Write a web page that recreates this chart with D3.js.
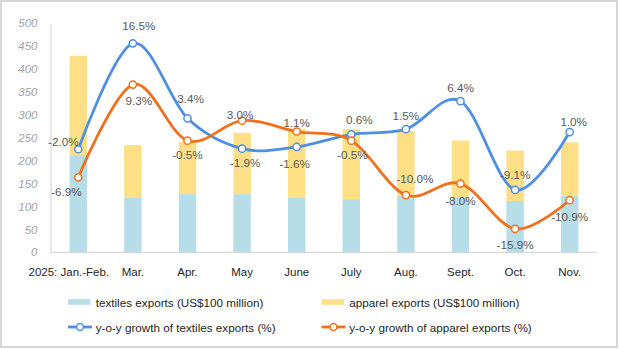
<!DOCTYPE html>
<html>
<head>
<meta charset="utf-8">
<script src="https://cdn.jsdelivr.net/npm/d3@7"></script>
<style>
  html, body { margin: 0; padding: 0; background: #fff; }
  svg { display: block; font-family: "Liberation Sans", Arial, sans-serif; }
</style>
</head>
<body>
<svg id="chart" width="620" height="349"></svg>
<script>
// Monthly textile & apparel exports, 2025 (US$100 million) and y-o-y growth (%)
const categories = ["2025: Jan.-Feb.", "Mar.", "Apr.", "May", "June", "July", "Aug.", "Sept.", "Oct.", "Nov."];
const textilesExports = [212, 120, 127, 127, 120, 116, 124, 121, 112, 124];
const apparelExports  = [217, 114, 114, 134, 150, 153, 141, 123, 110, 116];
const textilesGrowth  = [-2.0, 16.5, 3.4, -1.9, -1.6, 0.6, 1.5, 6.4, -9.1, 1.0];
const apparelGrowth   = [-6.9, 9.3, -0.5, 3.0, 1.1, -0.5, -10.0, -8.0, -15.9, -10.9];
const leftTicks = [0, 50, 100, 150, 200, 250, 300, 350, 400, 450, 500];

// Data-label placement (offset from each marker, px)
const textilesLabelOffset = [[-15, -8], [6, -18], [3, -20], [3, 14], [-2, 17], [8, -15], [0, -14], [0, -14], [0, -15], [4, -11]];
const apparelLabelOffset  = [[-12, 14], [6, 16], [0, 14], [-2, -6], [0, -9], [1, 14], [9, -17], [0, 17], [0, 16], [0, 16]];

const colors = {
  textilesBar: "#b6dde8",
  apparelBar: "#fddf86",
  textilesLine: "#4f8fe2",
  apparelLine: "#f0701f"
};

const svg = d3.select("#chart");

// frame
svg.append("rect")
  .attr("x", 1).attr("y", 1).attr("width", 616).attr("height", 346)
  .attr("fill", "#fff").attr("stroke", "#d6d6d6").attr("stroke-width", 2);

const x = d3.scaleBand().domain(categories).range([51, 597]).paddingInner(0.68).paddingOuter(0.34);
const y = d3.scaleLinear().domain([0, 500]).range([252.3, 23.3]);
const yPct = d3.scaleLinear().domain([-20, 20]).range([252.3, 23.3]);
const cx = c => x(c) + x.bandwidth() / 2;

// left axis
const yAxis = svg.append("g")
  .attr("transform", "translate(50.5,0)")
  .call(d3.axisLeft(y).tickValues(leftTicks).tickSize(0).tickPadding(13));
yAxis.select(".domain").attr("stroke", "#d9d9d9").attr("stroke-width", 1.2);
yAxis.selectAll("text")
  .attr("font-size", 11.5).attr("font-style", "italic").attr("fill", "#a3a3a3")
  .attr("font-family", "Liberation Sans, Arial, sans-serif");

// category axis
const xAxis = svg.append("g")
  .attr("transform", "translate(0,252.3)")
  .call(d3.axisBottom(x).tickSize(0).tickPadding(16));
xAxis.select(".domain").attr("stroke", "#d9d9d9").attr("stroke-width", 1.2)
  .attr("d", "M50,0H597");
xAxis.selectAll("text")
  .attr("font-size", 11.5).attr("fill", "#262626")
  .attr("font-family", "Liberation Sans, Arial, sans-serif")
  .attr("dx", (d, i) => i === 0 ? -9.5 : 0);

// stacked bars
const rows = categories.map((c, i) => ({ cat: c, textiles: textilesExports[i], apparel: apparelExports[i] }));
const stacked = d3.stack().keys(["textiles", "apparel"])(rows);
const barFill = { textiles: colors.textilesBar, apparel: colors.apparelBar };
svg.append("g").selectAll("g").data(stacked).join("g")
  .attr("fill", s => barFill[s.key])
  .selectAll("rect").data(s => s).join("rect")
  .attr("x", d => x(d.data.cat))
  .attr("width", x.bandwidth())
  .attr("y", d => y(d[1]))
  .attr("height", d => y(d[0]) - y(d[1]));

// growth lines
const line = d3.line()
  .x((d, i) => cx(categories[i]))
  .y(d => yPct(d))
  .curve(d3.curveCardinal.tension(0));

function drawSeries(values, color, offsets) {
  const g = svg.append("g");
  g.append("path").datum(values)
    .attr("d", line).attr("fill", "none")
    .attr("stroke", color).attr("stroke-width", 2.8).attr("stroke-linejoin", "round");
  g.selectAll("circle").data(values).join("circle")
    .attr("cx", (d, i) => cx(categories[i]))
    .attr("cy", d => yPct(d))
    .attr("r", 3.6)
    .attr("fill", "#fff").attr("stroke", color).attr("stroke-width", 1.5);
  return g;
}

const gT = drawSeries(textilesGrowth, colors.textilesLine);
const gA = drawSeries(apparelGrowth, colors.apparelLine);

function drawLabels(values, offsets) {
  svg.append("g").selectAll("text").data(values).join("text")
    .attr("x", (d, i) => cx(categories[i]) + offsets[i][0])
    .attr("y", (d, i) => yPct(d) + offsets[i][1])
    .attr("text-anchor", "middle")
    .attr("dominant-baseline", "central")
    .attr("font-size", 11.7).attr("fill", "#595959")
    .text(d => d.toFixed(1) + "%");
}
drawLabels(textilesGrowth, textilesLabelOffset);
drawLabels(apparelGrowth, apparelLabelOffset);

// legend
const legendItems = [
  { label: "textiles exports (US$100 million)", type: "bar", color: colors.textilesBar, x: 68, y: 302 },
  { label: "apparel exports (US$100 million)", type: "bar", color: colors.apparelBar, x: 321.5, y: 302 },
  { label: "y-o-y growth of textiles exports (%)", type: "line", color: colors.textilesLine, x: 68, y: 327 },
  { label: "y-o-y growth of apparel exports (%)", type: "line", color: colors.apparelLine, x: 321.5, y: 327 }
];
const lg = svg.append("g").selectAll("g").data(legendItems).join("g")
  .attr("transform", d => `translate(${d.x},${d.y})`);
lg.filter(d => d.type === "bar").append("rect")
  .attr("x", 0).attr("y", -2.8).attr("width", 22.5).attr("height", 5.6)
  .attr("fill", d => d.color);
const ll = lg.filter(d => d.type === "line");
ll.append("line").attr("x1", 0).attr("x2", 24).attr("y1", 0).attr("y2", 0)
  .attr("stroke", d => d.color).attr("stroke-width", 2.8);
ll.append("circle").attr("cx", 12).attr("cy", 0).attr("r", 3.4)
  .attr("fill", "#fff").attr("stroke", d => d.color).attr("stroke-width", 1.5);
lg.append("text")
  .attr("x", 27.7).attr("y", 0)
  .attr("dominant-baseline", "central")
  .attr("font-size", 11.7).attr("fill", "#262626")
  .text(d => d.label);
</script>
</body>
</html>
